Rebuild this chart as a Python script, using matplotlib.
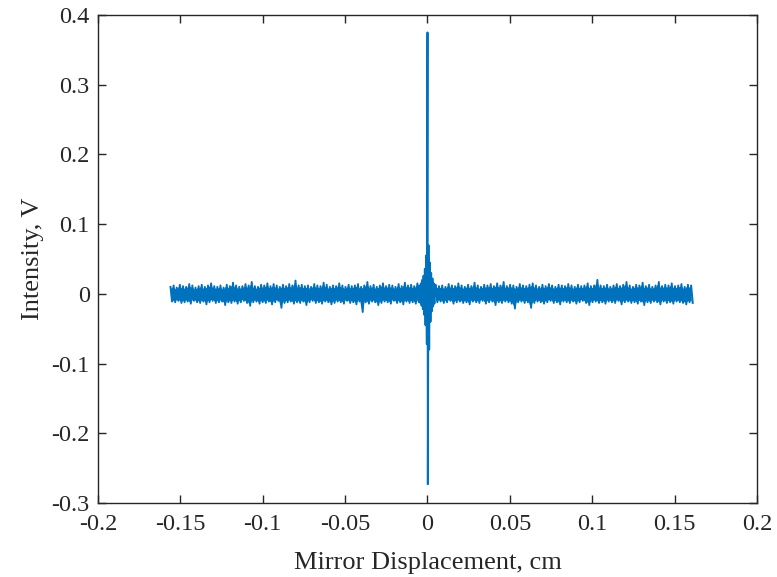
import numpy as np
import matplotlib.pyplot as plt

# noise band envelopes (mV), left and right of the centre burst
left_upper_mV = [10, 12, 9, 13, 11, 10, 14, 12, 9, 11, 13, 10, 12, 15, 11, 10, 12, 9, 13, 11,
                 16, 12, 10, 11, 14, 12, 17, 11, 10, 13, 12, 15, 11, 14, 12, 10, 13, 11, 14, 12,
                 19, 12, 13, 11, 12, 10, 14, 12, 11, 16, 13, 10, 12, 11, 15, 12, 10, 13, 11, 12,
                 14, 10, 12, 17, 11, 13, 10, 12, 15, 11, 13, 12, 10, 14, 11, 16, 12, 13, 11, 15]
left_lower_mV = [-11, -12, -10, -13, -12, -11, -14, -10, -12, -13, -11, -15, -12, -10, -13, -12, -11, -16, -12, -13,
                 -11, -14, -12, -10, -13, -17, -12, -11, -14, -12, -13, -11, -15, -12, -10, -20, -13, -12, -11, -14,
                 -12, -13, -11, -16, -12, -10, -13, -12, -14, -11, -12, -15, -13, -11, -12, -14, -10, -13, -12, -15,
                 -11, -26, -12, -14, -11, -12, -16, -13, -11, -12, -14, -10, -13, -12, -15, -11, -13, -12, -14, -12]
right_upper_mV = [13, 11, 12, 10, 14, 12, 11, 15, 12, 10, 13, 11, 16, 12, 10, 13, 12, 14, 11, 15,
                  12, 17, 11, 13, 12, 10, 14, 12, 11, 13, 15, 12, 10, 13, 11, 14, 12, 10, 13, 12,
                  11, 14, 12, 10, 13, 11, 12, 15, 11, 12, 20, 12, 11, 13, 10, 12, 14, 11, 13, 17,
                  12, 10, 13, 12, 16, 11, 13, 10, 12, 17, 11, 13, 12, 15, 11, 12, 14, 10, 13, 12]
right_lower_mV = [-12, -11, -13, -12, -10, -14, -12, -11, -13, -12, -15, -11, -12, -13, -10, -14, -12, -11, -16, -12,
                  -13, -11, -12, -14, -21, -12, -11, -13, -12, -20, -13, -11, -12, -14, -12, -10, -13, -12, -15, -11,
                  -12, -13, -11, -14, -12, -10, -13, -16, -12, -11, -13, -12, -14, -11, -12, -13, -10, -15, -12, -11,
                  -13, -12, -14, -11, -16, -12, -13, -11, -12, -15, -11, -13, -12, -14, -11, -12, -13, -15, -12, -13]

# centre burst (zero path difference)
burst_x = [-0.0048, -0.0044, -0.0040, -0.0036, -0.0032, -0.0028, -0.0024, -0.0020, -0.0016, -0.0012,
           -0.0008, -0.0004, 0.0, 0.0002, 0.0006, 0.0010, 0.0014, 0.0018, 0.0022, 0.0026,
           0.0030, 0.0034, 0.0038, 0.0042, 0.0046]
burst_y = [0.012, -0.013, 0.015, -0.017, 0.020, -0.022, 0.026, -0.030, 0.036, -0.045,
           0.055, -0.072, 0.375, -0.273, 0.070, -0.080, 0.045, -0.040, 0.030, -0.025,
           0.022, -0.018, 0.015, -0.014, 0.012]

x_start, x_end = -0.156, 0.161
blue = '#0072BD'


def zigzag(upper, lower, x0, x1):
    y = np.empty(2 * len(upper))
    y[0::2] = np.array(upper) / 1000
    y[1::2] = np.array(lower) / 1000
    return np.linspace(x0, x1, len(y)), y


xl, yl = zigzag(left_upper_mV, left_lower_mV, x_start, burst_x[0] - 0.0004)
xr, yr = zigzag(right_upper_mV, right_lower_mV, burst_x[-1] + 0.0004, x_end)
x = np.concatenate([xl, burst_x, xr])
y = np.concatenate([yl, burst_y, yr])

plt.rcParams['font.family'] = ['Liberation Serif', 'DejaVu Serif']

fig = plt.figure(figsize=(7.77, 5.77), dpi=100)
ax = fig.add_axes([98 / 777, 1 - 503 / 577, 659 / 777, 488 / 577])

# dense trace: solid core from the envelopes, ragged edge from the line
for xs, ys in [(xl, yl), (xr, yr)]:
    lo = np.minimum(ys[:-1], ys[1:]) * 0.8
    hi = np.maximum(ys[:-1], ys[1:]) * 0.8
    ax.fill_between(xs[:-1], lo, hi, color=blue, linewidth=0)
ax.plot(x, y, color=blue, linewidth=1.4)

ax.set_xlim(-0.2, 0.2)
ax.set_ylim(-0.3, 0.4)
ax.set_xticks(np.arange(-0.2, 0.2001, 0.05))
ax.set_xticklabels(['-0.2', '-0.15', '-0.1', '-0.05', '0', '0.05', '0.1', '0.15', '0.2'])
ax.set_yticks(np.arange(-0.3, 0.4001, 0.1))
ax.set_yticklabels(['-0.3', '-0.2', '-0.1', '0', '0.1', '0.2', '0.3', '0.4'])

ax.tick_params(direction='in', top=True, right=True, length=6, width=1,
               colors='#262626', labelsize=17.5, labelcolor='#262626')
ax.tick_params(axis='x', pad=8)
ax.tick_params(axis='y', pad=6)
for s in ax.spines.values():
    s.set_color('#262626')
    s.set_linewidth(1)

ax.set_xlabel('Mirror Displacement, cm', fontsize=19, color='#262626', labelpad=12)
ax.set_ylabel('Intensity, V', fontsize=19, color='#262626', labelpad=5)

fig.savefig('out.png', dpi=100)
